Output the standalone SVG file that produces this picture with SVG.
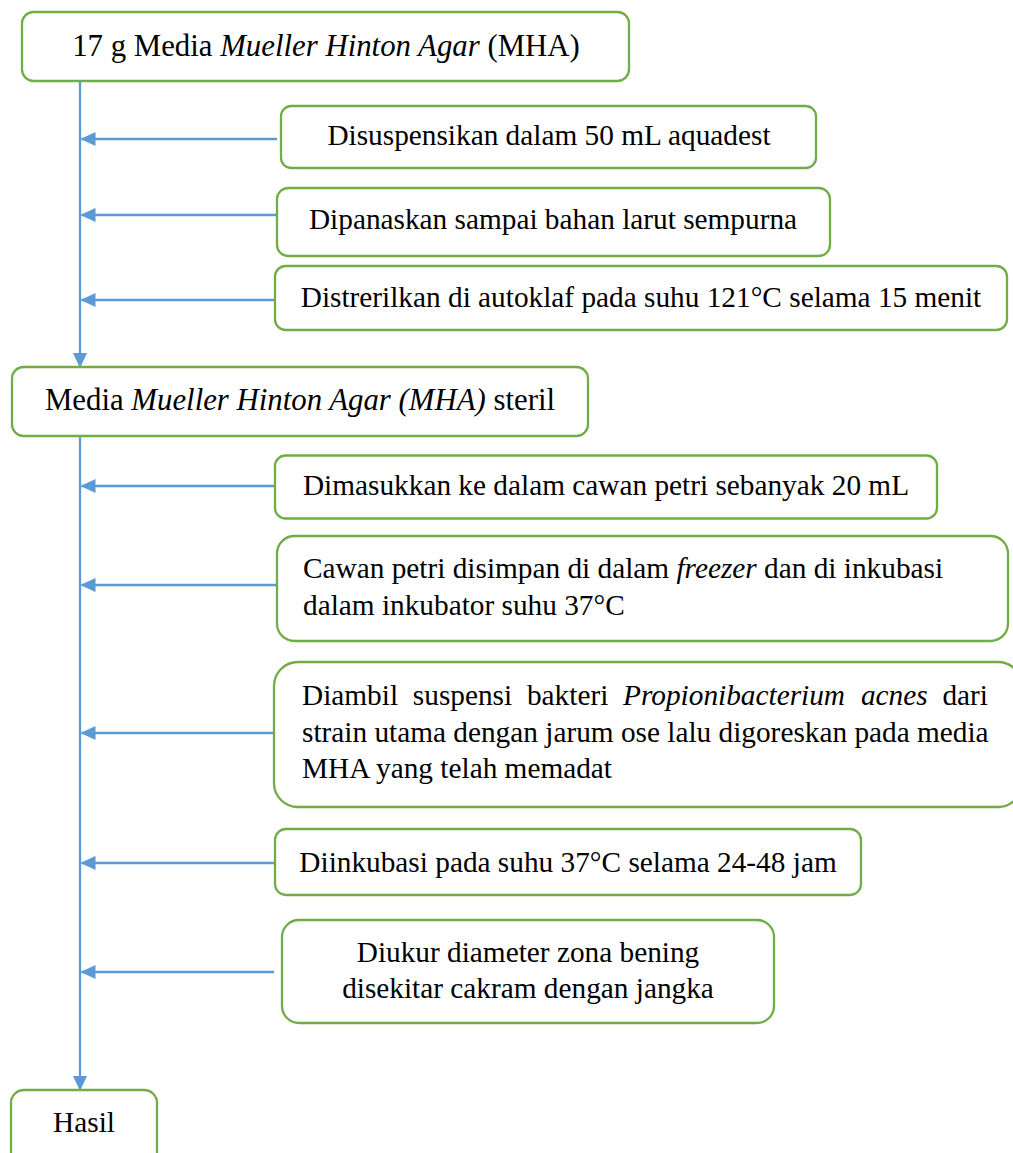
<svg xmlns="http://www.w3.org/2000/svg" width="1013" height="1153" viewBox="0 0 1013 1153">
<style>
.box{fill:#fff;stroke:#70AD47;stroke-width:2.3}
.t{font-family:"Liberation Serif","Times New Roman",serif;font-size:29.3px;fill:#000}
.title{font-size:30.8px}
.c{text-anchor:middle}
.i{font-style:italic}
.con{stroke:#5B9BD5;stroke-width:2.3;fill:none}
.arr{marker-end:url(#ah)}
</style>
<defs>
<marker id="ah" markerUnits="userSpaceOnUse" markerWidth="15" markerHeight="14" refX="14" refY="7" orient="auto">
<path d="M0,0 L15,7 L0,14 z" fill="#5B9BD5"/>
</marker>
</defs>
<rect width="1013" height="1153" fill="#fff"/>
<g id="connectors">
<line class="con arr" x1="80" y1="81" x2="80" y2="367"/>
<line class="con arr" x1="80" y1="436" x2="80" y2="1090"/>
<line class="con arr" x1="277" y1="139" x2="81.5" y2="139"/>
<line class="con arr" x1="276" y1="215" x2="81.5" y2="215"/>
<line class="con arr" x1="275" y1="300" x2="81.5" y2="300"/>
<line class="con arr" x1="275" y1="486" x2="81.5" y2="486"/>
<line class="con arr" x1="276" y1="585" x2="81.5" y2="585"/>
<line class="con arr" x1="274" y1="733" x2="81.5" y2="733"/>
<line class="con arr" x1="275" y1="863" x2="81.5" y2="863"/>
<line class="con arr" x1="274" y1="972" x2="81.5" y2="972"/>
</g>
<g id="n1">
<rect class="box" x="22" y="12" width="607" height="69" rx="11.5"/>
<text class="t title c" x="326" y="56">17 g Media <tspan class="i">Mueller Hinton Agar</tspan> (MHA)</text>
</g>
<g id="n2">
<rect class="box" x="281" y="106" width="535" height="62" rx="10.3"/>
<text class="t c" x="549" y="145">Disuspensikan dalam 50 mL aquadest</text>
</g>
<g id="n3">
<rect class="box" x="277" y="188" width="553" height="68" rx="11.3"/>
<text class="t c" x="553" y="229">Dipanaskan sampai bahan larut sempurna</text>
</g>
<g id="n4">
<rect class="box" x="275" y="266" width="732" height="64" rx="10.7"/>
<text class="t c" x="641" y="307">Distrerilkan di autoklaf pada suhu 121°C selama 15 menit</text>
</g>
<g id="n5">
<rect class="box" x="12" y="367" width="576" height="69" rx="11.5"/>
<text class="t title c" x="300" y="410">Media <tspan class="i">Mueller Hinton Agar (MHA)</tspan> steril</text>
</g>
<g id="n6">
<rect class="box" x="275" y="455.5" width="662" height="63" rx="10.5"/>
<text class="t c" x="606" y="495">Dimasukkan ke dalam cawan petri sebanyak 20 mL</text>
</g>
<g id="n7">
<rect class="box" x="277" y="536" width="731" height="105" rx="17.5"/>
<text class="t" x="303" y="578">Cawan petri disimpan di dalam <tspan class="i">freezer</tspan> dan di inkubasi</text>
<text class="t" x="303" y="615">dalam inkubator suhu 37°C</text>
</g>
<g id="n8">
<rect class="box" x="274" y="662" width="748" height="145" rx="24"/>
<text class="t" y="705"><tspan x="302">Diambil</tspan><tspan x="412.85">suspensi</tspan><tspan x="526.95">bakteri</tspan><tspan class="i" x="623.12">Propionibacterium</tspan><tspan class="i" x="860.92">acnes</tspan><tspan x="942.44">dari</tspan></text>
<text class="t" x="302" y="741.5">strain utama dengan jarum ose lalu digoreskan pada media</text>
<text class="t" x="302" y="778">MHA yang telah memadat</text>
</g>
<g id="n9">
<rect class="box" x="275" y="829" width="586" height="66" rx="11"/>
<text class="t c" x="568" y="872">Diinkubasi pada suhu 37°C selama 24-48 jam</text>
</g>
<g id="n10">
<rect class="box" x="282" y="920" width="492" height="103" rx="17"/>
<text class="t c" x="528" y="962">Diukur diameter zona bening</text>
<text class="t c" x="528" y="998">disekitar cakram dengan jangka</text>
</g>
<g id="n11">
<rect class="box" x="11" y="1090" width="146" height="78" rx="13"/>
<text class="t c" x="84" y="1132">Hasil</text>
</g>
</svg>
